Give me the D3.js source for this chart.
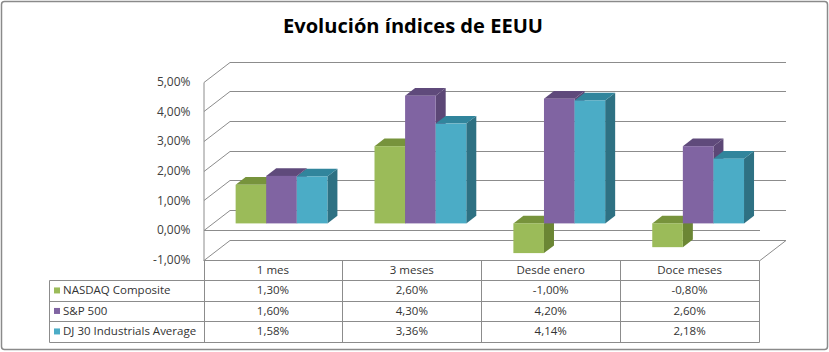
<!DOCTYPE html>
<html>
<head>
<meta charset="utf-8">
<script src="https://cdn.jsdelivr.net/npm/d3@7"></script>
<style>
  body { margin: 0; background: #fff; }
  svg text { font-family: "Open Sans", sans-serif; }
</style>
</head>
<body>
<div id="chart"></div>
<script>

// data (values in %)
const categories = ["1 mes", "3 meses", "Desde enero", "Doce meses"];
const seriesNames = ["NASDAQ Composite", "S&P 500", "DJ 30 Industrials Average"];
const nasdaq = [1.30, 2.60, -1.00, -0.80];
const sp500 = [1.60, 4.30, 4.20, 2.60];
const dj30 = [1.58, 3.36, 4.14, 2.18];
const yTicks = [-1, 0, 1, 2, 3, 4, 5];

// front, top and side colour of each series
const faceColors = [
    {front: "#9bbb59", top: "#77933c", side: "#6b8634"},
    {front: "#8064a2", top: "#5f4a7b", side: "#5c4776"},
    {front: "#4bacc6", top: "#31859c", side: "#2e7183"}
];

class Column3D {

    constructor(parentElement) {
        this._parentElement = parentElement;
        this._series = [nasdaq, sp500, dj30];
        this.initVis();
    }

    initVis() {
        let vis = this;

        vis.width = 829;
        vis.height = 352;

        vis.svg = d3.select("#" + vis._parentElement).append("svg")
            .attr("width", vis.width)
            .attr("height", vis.height);

        // outer frame
        vis.svg.append("rect")
            .attr("x", 1.5).attr("y", 1.5)
            .attr("width", 826).attr("height", 348)
            .attr("rx", 3)
            .attr("fill", "#fff")
            .attr("stroke", "#8a8a8a")
            .attr("stroke-width", 1.5);

        vis.svg.append("text")
            .attr("x", 413)
            .attr("y", 33)
            .attr("text-anchor", "middle")
            .attr("font-size", 20)
            .attr("font-weight", "bold")
            .attr("textLength", 260)
            .attr("lengthAdjust", "spacingAndGlyphs")
            .attr("fill", "#000")
            .text("Evolución índices de EEUU");

        // scales (front plane of the plot box)
        vis.x = d3.scaleBand()
            .domain(categories)
            .range([203.5, 759]);

        vis.xSeries = d3.scaleBand()
            .domain(seriesNames)
            .range([0, vis.x.bandwidth()])
            .paddingOuter(0.77);

        vis.y = d3.scaleLinear()
            .domain([-1, 5])
            .range([259.7, 81.5]);

        // full depth of the box, and where the bars sit in it
        vis.depth = {dx: 26, dy: -20};
        vis.barFront = 0.33;
        vis.barDepth = 0.385;

        vis.drawWalls();
        vis.drawBars();
        vis.drawAxis();
        vis.drawTable();
    }

    drawWalls() {
        let vis = this;
        let grid = vis.svg.append("g")
            .attr("fill", "none")
            .attr("stroke", "#8c8c8c")
            .attr("stroke-width", 1);

        let x0 = vis.x.range()[0] + 0.5;
        let x1 = vis.x.range()[1];
        let backRight = x1 + vis.depth.dx + 1;

        // side wall diagonals + back wall lines
        grid.selectAll("path.grid")
            .data(yTicks)
            .enter().append("path")
            .attr("class", "grid")
            .attr("d", t => {
                let yf = Math.round(vis.y(t)) + 0.5;
                return "M" + x0 + "," + yf +
                    "L" + (x0 + vis.depth.dx) + "," + (yf + vis.depth.dy) +
                    "L" + backRight + "," + (yf + vis.depth.dy);
            });

        // front edge of the side wall
        grid.append("line")
            .attr("x1", x0).attr("x2", x0)
            .attr("y1", Math.round(vis.y(5)) + 0.5)
            .attr("y2", Math.round(vis.y(-1)) + 0.5);

        // floor right edge
        let yFloor = Math.round(vis.y(-1)) + 0.5;
        grid.append("line")
            .attr("x1", x1 + 1).attr("y1", yFloor)
            .attr("x2", x1 + 1 + vis.depth.dx).attr("y2", yFloor + vis.depth.dy);

        // zero line on the front plane
        let yZero = Math.round(vis.y(0)) + 0.5;
        grid.append("line")
            .attr("x1", x0).attr("x2", x1 + 1)
            .attr("y1", yZero).attr("y2", yZero);
    }

    drawBars() {
        let vis = this;
        let ox = vis.depth.dx * vis.barFront;
        let oy = vis.depth.dy * vis.barFront;
        let bdx = vis.depth.dx * vis.barDepth;
        let bdy = vis.depth.dy * vis.barDepth;
        let line = d3.line();

        let boxes = [];
        categories.forEach((c, i) => {
            vis._series.forEach((s, j) => {
                let xl = vis.x(c) + vis.xSeries(seriesNames[j]) + ox;
                let xr = xl + vis.xSeries.bandwidth();
                let yt = vis.y(Math.max(0, s[i])) + oy;
                let yb = vis.y(Math.min(0, s[i])) + oy;
                boxes.push({xl, xr, yt, yb, col: faceColors[j]});
            });
        });

        let g = vis.svg.append("g").selectAll("g")
            .data(boxes)
            .enter().append("g");

        g.append("path")
            .attr("fill", d => d.col.side)
            .attr("d", d => line([[d.xr, d.yt], [d.xr + bdx, d.yt + bdy], [d.xr + bdx, d.yb + bdy], [d.xr, d.yb]]) + "Z");

        g.append("path")
            .attr("fill", d => d.col.top)
            .attr("d", d => line([[d.xl, d.yt], [d.xr, d.yt], [d.xr + bdx, d.yt + bdy], [d.xl + bdx, d.yt + bdy]]) + "Z");

        g.append("rect")
            .attr("x", d => d.xl)
            .attr("y", d => d.yt)
            .attr("width", d => d.xr - d.xl)
            .attr("height", d => d.yb - d.yt)
            .attr("fill", d => d.col.front);
    }

    drawAxis() {
        let vis = this;
        vis.yAxis = d3.axisLeft(vis.y)
            .tickValues(yTicks)
            .tickSize(0)
            .tickPadding(13)
            .tickFormat(d => d.toFixed(2).replace(".", ",") + "%");

        let ax = vis.svg.append("g")
            .attr("transform", "translate(" + vis.x.range()[0] + ",0)")
            .call(vis.yAxis);
        ax.select(".domain").remove();
        ax.selectAll("text")
            .attr("font-family", "\"Open Sans\", sans-serif")
            .attr("font-size", 12)
            .attr("fill", "#404040");
    }

    drawTable() {
        let vis = this;
        let fmt = d => d.toFixed(2).replace(".", ",") + "%";
        let left = 49.5;
        let right = vis.x.range()[1];

        vis.rows = d3.scaleBand()
            .domain(["header"].concat(seriesNames))
            .range([259.7, 341.7]);

        let t = vis.svg.append("g");
        let lines = t.append("g")
            .attr("stroke", "#8c8c8c")
            .attr("stroke-width", 1);

        // header top
        lines.append("line")
            .attr("x1", vis.x.range()[0]).attr("x2", right + 0.5)
            .attr("y1", Math.round(vis.rows("header")) + 0.5)
            .attr("y2", Math.round(vis.rows("header")) + 0.5);

        // row separators
        lines.selectAll("line.row")
            .data(seriesNames)
            .enter().append("line")
            .attr("class", "row")
            .attr("x1", left).attr("x2", right + 0.5)
            .attr("y1", d => Math.round(vis.rows(d)) + 0.5)
            .attr("y2", d => Math.round(vis.rows(d)) + 0.5);

        let yEnd = Math.round(vis.rows.range()[1]) + 0.5;
        lines.append("line")
            .attr("x1", left).attr("x2", right + 0.5)
            .attr("y1", yEnd).attr("y2", yEnd);

        // column separators
        let colEdges = categories.map(c => vis.x(c)).concat([right]);
        lines.selectAll("line.col")
            .data(colEdges)
            .enter().append("line")
            .attr("class", "col")
            .attr("x1", d => Math.round(d) + 0.5).attr("x2", d => Math.round(d) + 0.5)
            .attr("y1", Math.round(vis.rows("header")) + 0.5)
            .attr("y2", yEnd);

        lines.append("line")
            .attr("x1", left).attr("x2", left)
            .attr("y1", Math.round(vis.rows(seriesNames[0])) + 0.5)
            .attr("y2", yEnd);

        let txt = t.append("g")
            .attr("font-size", 11.5)
            .attr("fill", "#333");

        // header labels
        txt.selectAll("text.cat")
            .data(categories)
            .enter().append("text")
            .attr("class", "cat")
            .attr("x", d => vis.x(d) + vis.x.bandwidth() / 2)
            .attr("y", vis.rows("header") + vis.rows.bandwidth() / 2 + 4)
            .attr("text-anchor", "middle")
            .text(d => d);

        // legend keys + series names
        txt.selectAll("rect.key")
            .data(seriesNames)
            .enter().append("rect")
            .attr("class", "key")
            .attr("x", 54)
            .attr("y", d => vis.rows(d) + vis.rows.bandwidth() / 2 - 3)
            .attr("width", 6).attr("height", 6)
            .attr("fill", (d, i) => faceColors[i].front);

        txt.selectAll("text.name")
            .data(seriesNames)
            .enter().append("text")
            .attr("class", "name")
            .attr("x", 63)
            .attr("y", d => vis.rows(d) + vis.rows.bandwidth() / 2 + 4)
            .text(d => d);

        // values
        vis._series.forEach((s, j) => {
            txt.selectAll("text.v" + j)
                .data(s)
                .enter().append("text")
                .attr("class", "v" + j)
                .attr("x", (d, i) => vis.x(categories[i]) + vis.x.bandwidth() / 2)
                .attr("y", vis.rows(seriesNames[j]) + vis.rows.bandwidth() / 2 + 4)
                .attr("text-anchor", "middle")
                .text(d => fmt(d));
        });
    }
}

new Column3D("chart");

</script>
</body>
</html>
